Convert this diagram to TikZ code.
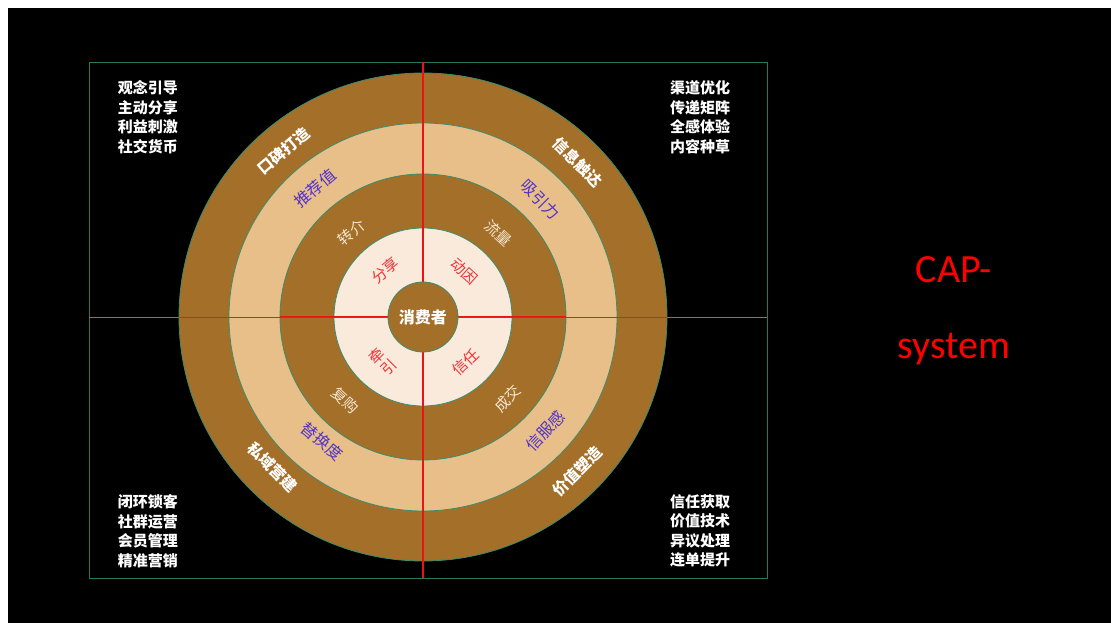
\documentclass[tikz,border=0pt]{standalone}
\usepackage{fontspec}
\newfontfamily\cjk{Noto Sans CJK SC}
\newfontfamily\capfont{Carlito}
\definecolor{brownD}{RGB}{164,111,40}
\definecolor{tanL}{RGB}{232,191,137}
\definecolor{creamC}{RGB}{249,234,219}
\definecolor{edgeT}{RGB}{60,140,110}
\definecolor{frameT}{RGB}{40,120,95}
\definecolor{purpT}{RGB}{80,50,200}
\definecolor{redT}{RGB}{240,50,55}
\definecolor{creamT}{RGB}{247,232,212}
\definecolor{hline}{RGB}{150,110,100}
\definecolor{axisR}{RGB}{235,20,20}
\tikzset{
  ring/.style={circle, draw=edgeT, line width=0.8pt, inner sep=0pt},
  lab1/.style={font=\cjk\bfseries\fontsize{15.5}{18}\selectfont, text=white, inner sep=1pt},
  lab2/.style={font=\cjk\fontsize{16}{18}\selectfont, text=purpT, inner sep=1pt},
  lab3/.style={font=\cjk\fontsize{15}{17}\selectfont, text=creamT, inner sep=1pt},
  lab4/.style={font=\cjk\fontsize{15}{17}\selectfont, text=redT, inner sep=1pt},
  corner/.style={font=\cjk\bfseries\fontsize{15}{19.5}\selectfont, text=white, align=left, inner sep=0pt},
  captext/.style={font=\capfont\fontsize{40}{44}\selectfont, text=red, inner sep=0pt},
}
\begin{document}
\begin{tikzpicture}[x=1pt,y=1pt]
\useasboundingbox (-423,317) rectangle (688,-306);
\fill[white] (-423,317) rectangle (688,-306);
\fill[black] (-415,309) rectangle (688,-306);
% frame
\node[draw=frameT, line width=0.8pt, minimum width=678pt, minimum height=516pt, inner sep=0pt] (frame) at (5,-3) {};
% rings
\node[ring, fill=brownD, minimum size=488pt] (r1) at (0,0) {};
\node[ring, fill=tanL, minimum size=388pt] (r2) at (0,0) {};
\node[ring, fill=brownD, minimum size=286pt] (r3) at (0,0) {};
\node[ring, fill=creamC, minimum size=178pt] (r4) at (0,0) {};
% axes
\coordinate (hl) at (frame.west |- r1.center);
\coordinate (hr) at (frame.east |- r1.center);
\coordinate (vt) at (r1.center |- frame.north);
\coordinate (vb) at (r1.center |- frame.south);
\draw[hline, line width=0.7pt] (hl) -- (hr);
\draw[axisR!80!brownD, line width=0.8pt] (r1.west) -- (r1.east);
\draw[axisR, line width=1pt] (r3.west) -- (r3.east);
\draw[axisR, line width=1.6pt] (vt) -- (vb);
% center
\node[ring, fill=brownD, minimum size=70pt, font=\cjk\bfseries\fontsize{16}{18}\selectfont, text=white] (c) at (0,0) {消费者};
% ring 1 labels
\node[lab1, rotate=40] (a1) at (130:217) {口碑打造};
\node[lab1, rotate=-45] (a2) at (45:219) {信息触达};
\node[lab1, rotate=-45] (a3) at (225:213) {私域营建};
\node[lab1, rotate=45] (a4) at (-45:218) {价值塑造};
% ring 2 labels
\node[lab2, rotate=40] (b1) at (130:168) {推荐值};
\node[lab2, rotate=-45] (b2) at (45:166) {吸引力};
\node[lab2, rotate=-40] (b3) at (231:160) {替换度};
\node[lab2, rotate=47] (b4) at (-43:167) {信服感};
% ring 3 labels
\node[lab3, rotate=40] (d1) at (130:111) {转介};
\node[lab3, rotate=-42] (d2) at (48:113) {流量};
\node[lab3, rotate=-43] (d3) at (227:114) {复购};
\node[lab3, rotate=46] (d4) at (-44:118) {成交};
% ring 4 labels
\node[lab4, rotate=39] (e1) at (129:60) {分享};
\node[lab4, rotate=-42] (e2) at (48:62) {动因};
\node[lab4, rotate=45, align=center, font=\cjk\fontsize{15}{16}\selectfont] (e3) at (228:60) {牵\\引};
\node[lab4, rotate=43] (e4) at (-47:62) {信任};
% corner texts
\node[corner] (t1) at (-275,200) {观念引导\\主动分享\\利益刺激\\社交货币};
\node[corner] (t2) at (277,200) {渠道优化\\传递矩阵\\全感体验\\内容种草};
\node[corner] (t3) at (-275,-214) {闭环锁客\\社群运营\\会员管理\\精准营销};
\node[corner] (t4) at (277,-214) {信任获取\\价值技术\\异议处理\\连单提升};
% title
\node[captext] (cap1) at (531,47) {CAP-};
\node[captext] (cap2) at (531,-32) {system};
\end{tikzpicture}
\end{document}
